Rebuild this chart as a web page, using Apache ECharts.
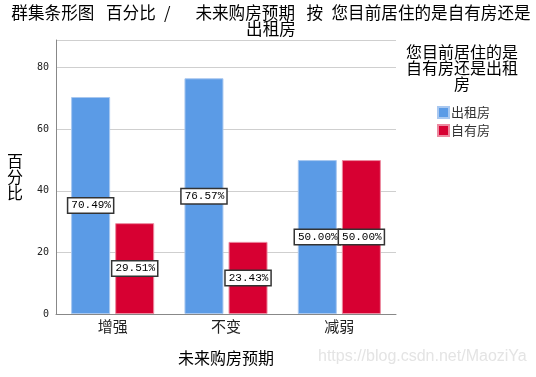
<!DOCTYPE html>
<html>
<head>
<meta charset="utf-8">
<script src="https://cdn.jsdelivr.net/npm/echarts@6/dist/echarts.min.js"></script>
<style>
html,body{margin:0;padding:0;background:#fff;}
#main{width:536px;height:377px;}
</style>
</head>
<body>
<div id="main"></div>
<script>
// 数据
var categories = ['增强', '不变', '减弱'];
var seriesNames = ['出租房', '自有房'];
var rentValues = [70.49, 76.57, 50.00];
var ownValues = [29.51, 23.43, 50.00];
var yTicks = [0, 20, 40, 60, 80];

var myChart = echarts.init(document.getElementById('main'));
var cjk = '"Noto Sans CJK SC", sans-serif';

function barLabel() {
    return {
        show: true,
        position: 'inside',
        formatter: function (p) { return p.value.toFixed(2) + '%'; },
        fontFamily: '"Liberation Mono", "DejaVu Sans Mono", monospace',
        fontSize: 11,
        color: '#000',
        backgroundColor: '#fff',
        borderColor: '#333',
        borderWidth: 1.5,
        padding: [2, 2, 1, 3]
    };
}

// 标题里的空格按原图间距
var titleText = '群集条形图\u2002\u2009百分比\u2002/\u2003\u2002未来购房预期\u2002\u2009按\u2002您目前居住的是自有房还是\n出租房';

var option = {
    animation: false,
    title: {
        text: titleText,
        left: 266,
        top: 0,
        textAlign: 'center',
        textStyle: {fontFamily: cjk, fontSize: 16.6, fontWeight: 'normal', color: '#000', lineHeight: 16}
    },
    legend: {
        orient: 'vertical',
        left: 432,
        top: 101,
        itemWidth: 11,
        itemHeight: 11,
        itemGap: 5,
        icon: 'rect',
        data: seriesNames,
        textStyle: {fontFamily: cjk, fontSize: 13, color: '#333', padding: [0, 0, 0, -3]}
    },
    graphic: [
        {
            type: 'text', x: 462, y: 44,
            style: {text: '您目前居住的是\n自有房还是出租\n房', fill: '#000', font: '16px ' + cjk, textAlign: 'center', lineHeight: 16}
        },
        {
            type: 'text', x: 318, y: 349,
            style: {text: 'https://blog.csdn.net/MaoziYa', fill: '#e4e4e4', font: '16px Arial, "Liberation Sans", sans-serif'}
        }
    ],
    grid: {left: 56, right: 140, top: 40, bottom: 63},
    xAxis: {
        type: 'category',
        data: categories,
        name: '未来购房预期',
        nameLocation: 'middle',
        nameGap: 36,
        nameTextStyle: {fontFamily: cjk, fontSize: 16, color: '#000'},
        axisLine: {lineStyle: {color: '#888'}},
        axisTick: {show: false},
        axisLabel: {fontFamily: cjk, fontSize: 15, color: '#222', margin: 5}
    },
    yAxis: {
        type: 'value',
        min: 0,
        max: 89,
        interval: 20,
        name: '百\n分\n比',
        nameLocation: 'middle',
        nameRotate: 0,
        nameGap: 33,
        nameTextStyle: {fontFamily: cjk, fontSize: 16, color: '#000', lineHeight: 16},
        axisLine: {show: true, lineStyle: {color: '#888'}},
        axisTick: {show: false},
        axisLabel: {
            fontFamily: '"DejaVu Sans Mono", monospace', fontSize: 10, color: '#222', margin: 7,
            showMaxLabel: false,
            formatter: function (v) { return yTicks.indexOf(v) >= 0 ? v : ''; }
        },
        splitLine: {lineStyle: {color: '#cfcfcf', width: 1}}
    },
    series: [
        {
            name: seriesNames[0],
            type: 'bar',
            data: rentValues,
            barWidth: 39,
            barGap: '13%',
            itemStyle: {color: '#5b9be6', borderColor: '#a9c8f0', borderWidth: 1},
            label: barLabel()
        },
        {
            name: seriesNames[1],
            type: 'bar',
            data: ownValues,
            barWidth: 39,
            itemStyle: {color: '#d70032', borderColor: '#ec8aa0', borderWidth: 1},
            label: barLabel()
        }
    ]
};

myChart.setOption(option);
</script>
</body>
</html>
